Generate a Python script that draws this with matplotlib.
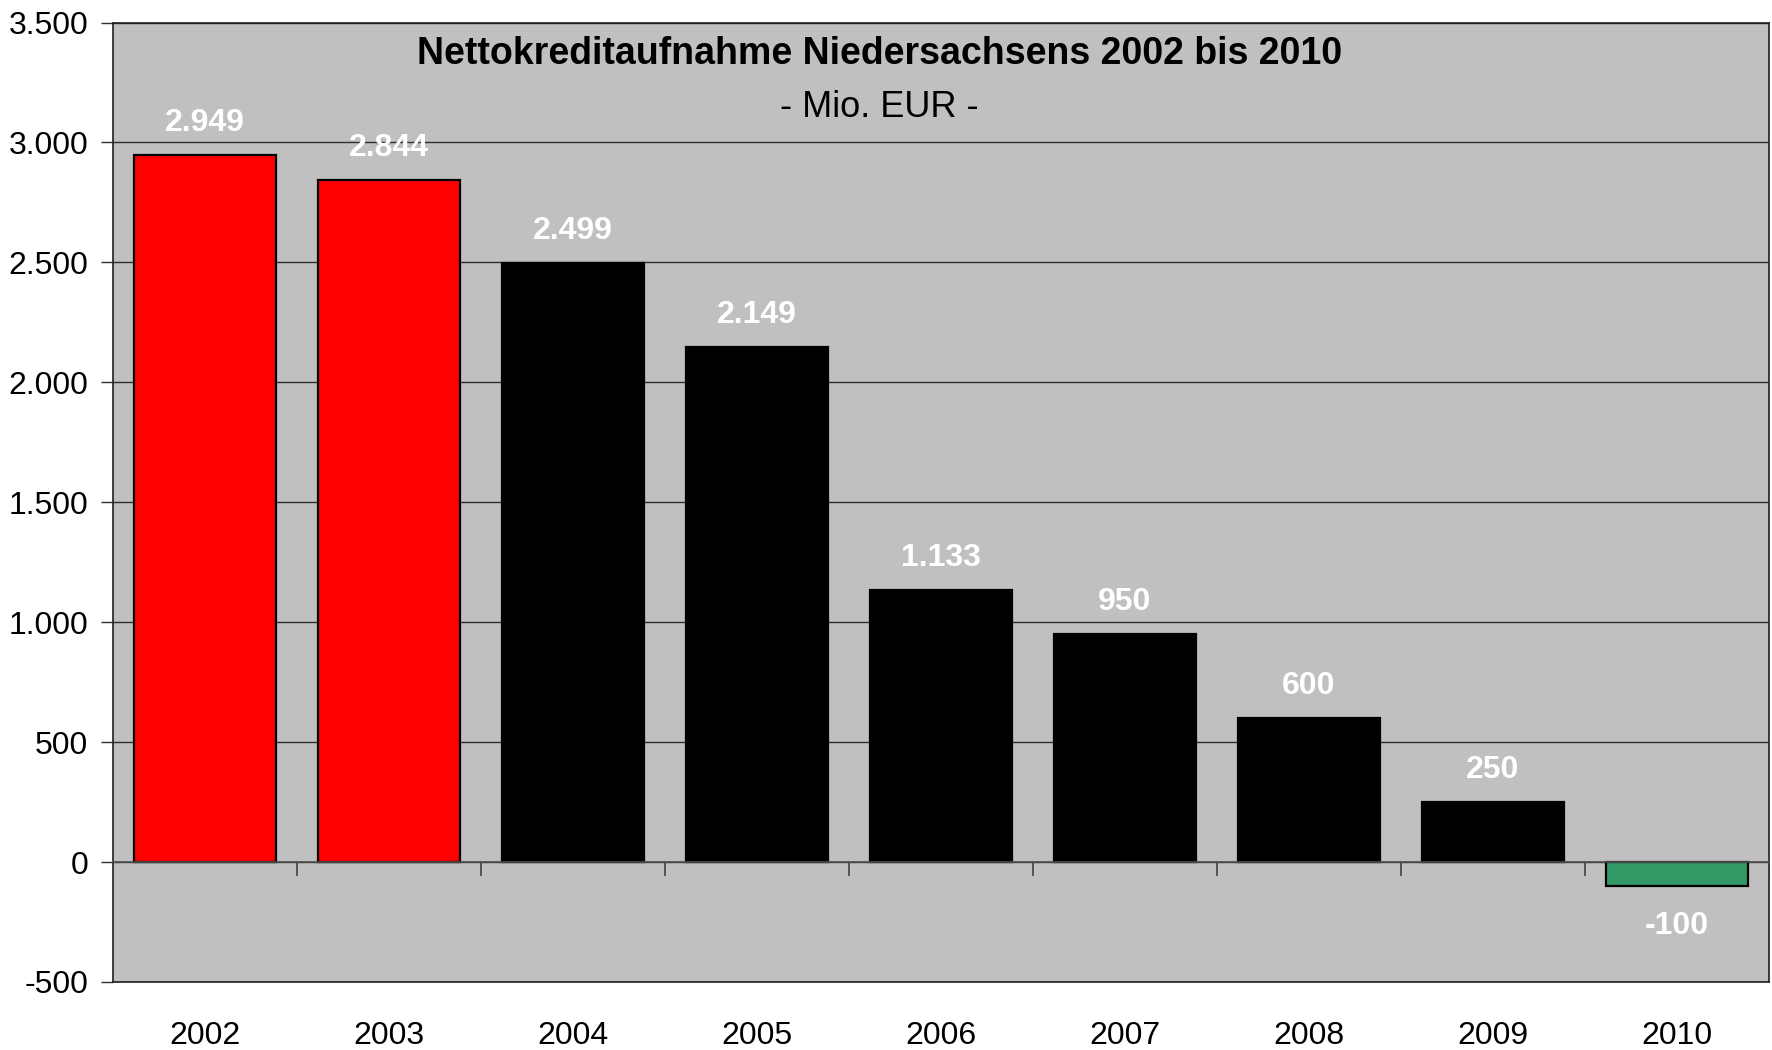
"""Net borrowing of Lower Saxony 2002-2010, Excel-style bar chart."""

import matplotlib
matplotlib.use("Agg")
import matplotlib.pyplot as plt
from matplotlib.ticker import FixedLocator, FuncFormatter

years = ["2002", "2003", "2004", "2005", "2006", "2007", "2008", "2009", "2010"]
net_borrowing = [2949, 2844, 2499, 2149, 1133, 950, 600, 250, -100]
bar_colors = ["#FF0000", "#FF0000", "#000000", "#000000", "#000000",
              "#000000", "#000000", "#000000", "#339966"]
y_ticks = [-500, 0, 500, 1000, 1500, 2000, 2500, 3000, 3500]

plt.rcParams["font.family"] = ["Liberation Sans", "DejaVu Sans"]


def de_fmt(v, _pos=None):
    # German thousands separator
    return f"{int(v):,}".replace(",", ".")


fig = plt.figure(figsize=(17.72, 10.5), dpi=100)
ax = fig.add_axes([0.0638, 0.0648, 0.9345, 0.9137])
ax.set_facecolor("#C0C0C0")

x = list(range(len(years)))
ax.bar(x, net_borrowing, width=0.775, color=bar_colors,
       edgecolor="black", linewidth=1.6, zorder=3)

ymin, ymax = y_ticks[0], y_ticks[-1]
ax.set_ylim(ymin, ymax)
ax.set_xlim(-0.5, len(years) - 0.5)

ax.yaxis.set_major_locator(FixedLocator(y_ticks))
ax.yaxis.set_major_formatter(FuncFormatter(de_fmt))
ax.grid(axis="y", color="#303030", linewidth=1.0, zorder=1)
ax.tick_params(axis="y", direction="out", length=9, width=1,
               labelsize=23, pad=9, color="#303030")

ax.set_xticks(x)
ax.set_xticklabels(years)
ax.tick_params(axis="x", length=0, labelsize=23, pad=28)

for sp in ax.spines.values():
    sp.set_color("#202020")
    sp.set_linewidth(1.2)

# category axis crossing at zero, with tick marks between the bars
zero_pos = (0 - ymin) / (ymax - ymin)
cat_axis = ax.secondary_xaxis(zero_pos)
cat_axis.set_xticks([i + 0.5 for i in x])
cat_axis.tick_params(axis="x", direction="out", length=10, width=1.2,
                     color="#404040", labelbottom=False, labeltop=False)
cat_axis.spines["bottom"].set_color("#505050")
cat_axis.spines["bottom"].set_linewidth(1.2)
cat_axis.set_zorder(4)

# value labels above (or below) each bar
for xi, v in zip(x, net_borrowing):
    off = 23 if v >= 0 else -29
    ax.annotate(de_fmt(v), (xi, v), xytext=(0, off), textcoords="offset points",
                ha="center", va="center", color="white", fontsize=23,
                fontweight="bold", zorder=5)

ax.text(0.4626, 0.967, "Nettokreditaufnahme Niedersachsens 2002 bis 2010",
        transform=ax.transAxes, ha="center", va="center",
        fontsize=27, fontweight="bold", color="black")
ax.text(0.4626, 0.912, "- Mio. EUR -", transform=ax.transAxes,
        ha="center", va="center", fontsize=26, color="black")

fig.savefig("out.png", dpi=100, facecolor="white")
